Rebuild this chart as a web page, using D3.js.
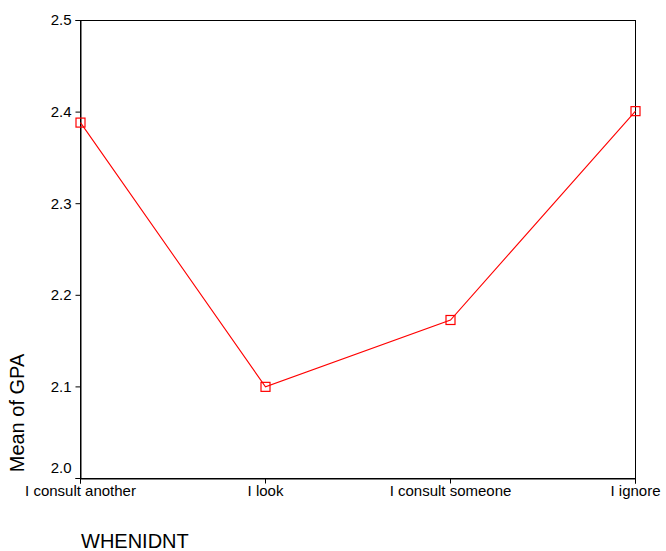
<!DOCTYPE html>
<html>
<head>
<meta charset="utf-8">
<script src="https://cdn.jsdelivr.net/npm/d3@7"></script>
<style>
  body { margin: 0; background: #fff; }
  svg { display: block; font-family: Arial, "Liberation Sans", sans-serif; }
</style>
</head>
<body>
<svg width="666" height="551"></svg>
<script>
var categories = ["I consult another", "I look", "I consult someone", "I ignore"];
var meanGpa = [2.388, 2.0995, 2.1725, 2.4005];
var yTicks = [2.0, 2.1, 2.2, 2.3, 2.4, 2.5];

var data = categories.map(function(c, i) { return { cat: c, value: meanGpa[i] }; });

var svg = d3.select("svg"),
    margin = {top: 20, right: 31, bottom: 73, left: 80},
    width = +svg.attr("width") - margin.left - margin.right,
    height = +svg.attr("height") - margin.top - margin.bottom,
    g = svg.append("g").attr("transform", "translate(" + margin.left + "," + margin.top + ")");

var x = d3.scalePoint()
    .domain(categories)
    .range([0, width]);

var y = d3.scaleLinear()
    .domain([2.0, 2.5])
    .range([height, 0]);

// frame
g.append("rect")
    .attr("x", 0.5)
    .attr("y", 0.5)
    .attr("width", width)
    .attr("height", height)
    .attr("fill", "none")
    .attr("stroke", "#000");

var xAxis = g.append("g")
    .attr("transform", "translate(0," + (height + 0.5) + ")")
    .call(d3.axisBottom(x).tickSizeOuter(0).tickSize(5).tickPadding(2));

var yAxis = g.append("g")
    .attr("transform", "translate(0.5,0)")
    .call(d3.axisLeft(y).tickValues(yTicks).tickFormat(d3.format(".1f")).tickSizeOuter(0).tickSize(5).tickPadding(4));

[xAxis, yAxis].forEach(function(a) {
  a.select(".domain").attr("stroke", "#000");
  a.selectAll(".tick line").attr("stroke", "#000");
  a.selectAll("text").attr("fill", "#000").attr("font-size", 15).attr("font-family", "Arial, 'Liberation Sans', sans-serif");
});

// bottom label sits above its tick, clear of the category labels
yAxis.selectAll(".tick text")
    .filter(function(d) { return d === 2.0; })
    .attr("y", -10);

var line = d3.line()
    .x(function(d) { return x(d.cat) + 0.5; })
    .y(function(d) { return y(d.value); });

g.append("path")
    .datum(data)
    .attr("fill", "none")
    .attr("stroke", "#ff0000")
    .attr("stroke-width", 1.1)
    .attr("d", line);

g.selectAll(".marker")
    .data(data)
  .enter().append("rect")
    .attr("class", "marker")
    .attr("x", function(d) { return x(d.cat) + 0.5 - 4.5; })
    .attr("y", function(d) { return y(d.value) - 4.5; })
    .attr("width", 9)
    .attr("height", 9)
    .attr("fill", "none")
    .attr("stroke", "#ff0000")
    .attr("stroke-width", 1.2);

svg.append("text")
    .attr("transform", "translate(24,413) rotate(-90)")
    .attr("text-anchor", "middle")
    .attr("font-size", 20)
    .text("Mean of GPA");

svg.append("text")
    .attr("x", 81)
    .attr("y", 548)
    .attr("font-size", 20)
    .text("WHENIDNT");
</script>
</body>
</html>
